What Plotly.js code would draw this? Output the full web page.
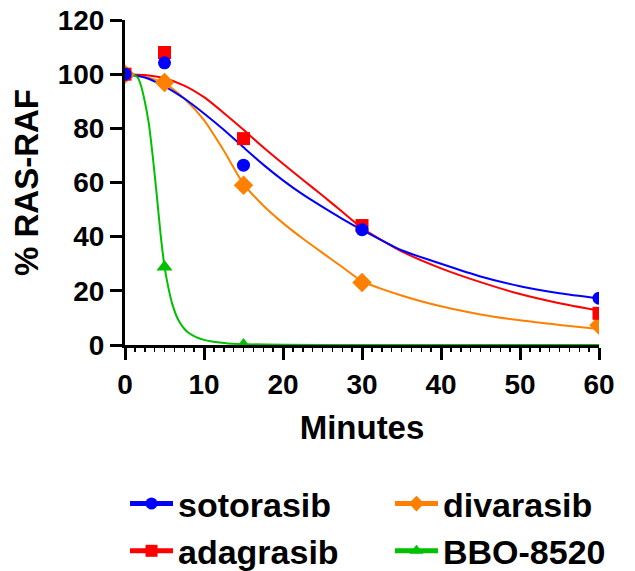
<!DOCTYPE html>
<html>
<head>
<meta charset="utf-8">
<script src="https://cdn.plot.ly/plotly-3.0.1.min.js"></script>
<style>html,body{margin:0;padding:0;background:#fff;}#chart{width:635px;height:571px;}</style>
</head>
<body>
<div id="chart"></div>
<script>
// Measured time points (minutes)
const timePoints = [0, 5, 15, 30, 60];

// Measured % RAS-RAF (null = no visible point)
const sotorasibPts = [100, 104.2, 66.4, 42.6, 17.3];
const adagrasibPts = [100, 108.0, 76.2, 44.1, 11.7];
const divarasibPts = [100, 96.9, 59.0, 23.1, 7.3];
const bboPts       = [100, 28.8, 0, null, null];

// Fitted curves
const fitX          = [0, 2.5, 5, 7.5, 10, 12.5, 15, 17.5, 20, 22.5, 25, 27.5, 30, 35, 40, 45, 50, 55, 60];
const sotorasibFit  = [100, 98.8, 95.5, 91, 85.5, 79.5, 73, 66.6, 60.8, 55.6, 51, 46.6, 42.5, 35, 30, 25.3, 21.7, 19.1, 17.2];
const adagrasibFit  = [100, 99.7, 98.5, 95.8, 91.5, 85.7, 79.5, 73, 66.9, 61, 55.2, 49.2, 43.2, 34.6, 28.3, 23.2, 18.8, 15.4, 12.7];
const divarasibFit  = [100, 99, 96.7, 91, 83, 71.8, 59.5, 51.5, 45, 39.3, 34, 28.8, 23.6, 18.3, 14.3, 11.3, 9.1, 7.4, 5.9];

const bboFitX = [0, 1, 1.6, 2, 2.5, 3, 3.5, 4, 4.5, 5, 5.5, 6, 6.5, 7, 7.5, 8, 9, 10, 11, 12, 13, 15, 20, 30, 40, 50, 60];
const bboFit  = [100, 99.8, 98.8, 96, 90, 82, 70, 56, 41, 29, 21, 15, 10.8, 8, 6, 4.6, 2.9, 1.9, 1.3, 0.9, 0.6, 0.3, 0.1, 0, 0, 0, 0];

const seriesNames = ['sotorasib', 'adagrasib', 'divarasib', 'BBO-8520'];
const colors  = {sotorasib: '#0000FF', adagrasib: '#FF0000', divarasib: '#FF8000', 'BBO-8520': '#00C000'};
const symbols = {sotorasib: 'circle', adagrasib: 'square', divarasib: 'diamond', 'BBO-8520': 'triangle-up'};
const sizes   = {sotorasib: 13, adagrasib: 13, divarasib: 15, 'BBO-8520': 14};
const legendOf = {sotorasib: 'legend', adagrasib: 'legend', divarasib: 'legend2', 'BBO-8520': 'legend2'};

const fits = {
  sotorasib: [fitX, sotorasibFit],
  adagrasib: [fitX, adagrasibFit],
  divarasib: [fitX, divarasibFit],
  'BBO-8520': [bboFitX, bboFit]
};
const pts = {sotorasib: sotorasibPts, adagrasib: adagrasibPts, divarasib: divarasibPts, 'BBO-8520': bboPts};

const curveOrder = ['divarasib', 'adagrasib', 'sotorasib', 'BBO-8520'];
const pointOrder = ['BBO-8520', 'divarasib', 'adagrasib', 'sotorasib'];
const traces = [];
curveOrder.forEach(n => {
  traces.push({x: fits[n][0], y: fits[n][1], type: 'scatter', mode: 'lines',
    line: {color: colors[n], width: 2, shape: 'spline', smoothing: 0.6},
    showlegend: false, hoverinfo: 'skip', cliponaxis: false});
});
pointOrder.forEach(n => {
  traces.push({x: timePoints, y: pts[n], type: 'scatter', mode: 'markers',
    marker: {color: colors[n], symbol: symbols[n], size: sizes[n], line: {width: 0}},
    showlegend: false, cliponaxis: true});
});
seriesNames.forEach(n => {
  traces.push({x: [null], y: [null], type: 'scatter', mode: 'lines+markers', name: n,
    legend: legendOf[n],
    line: {color: colors[n], width: 2},
    marker: {color: colors[n], symbol: symbols[n], size: sizes[n] - 1}});
});

const bold = {family: 'Arial, "Liberation Sans", sans-serif', color: '#000', weight: 'bold'};
const legendBase = {
  orientation: 'v', xanchor: 'left', y: -0.4, yanchor: 'top',
  itemwidth: 43, tracegroupgap: 0,
  font: Object.assign({size: 34}, bold),
  bgcolor: 'rgba(0,0,0,0)', itemsizing: 'constant', traceorder: 'normal'
};

const layout = {
  width: 635, height: 571,
  margin: {l: 125, r: 36, t: 20, b: 226, autoexpand: false},
  paper_bgcolor: '#fff', plot_bgcolor: '#fff',
  showlegend: true,
  xaxis: {
    range: [0, 60], dtick: 10, tick0: 0,
    showgrid: false, zeroline: false,
    showline: true, linecolor: '#000', linewidth: 3,
    ticks: 'outside', ticklen: 12, tickwidth: 3, tickcolor: '#000',
    minor: {dtick: 1.25, ticks: 'outside', ticklen: 4, tickwidth: 1.5, tickcolor: '#000', showgrid: false},
    tickfont: Object.assign({size: 28}, bold),
    title: {text: 'Minutes', font: Object.assign({size: 33}, bold), standoff: 18},
    layer: 'below traces', fixedrange: true, automargin: false
  },
  yaxis: {
    range: [0, 120], dtick: 20, tick0: 0,
    showgrid: false, zeroline: false,
    showline: true, linecolor: '#000', linewidth: 3,
    ticks: 'outside', ticklen: 12, tickwidth: 3, tickcolor: '#000',
    tickfont: Object.assign({size: 28}, bold),
    title: {text: '% RAS-RAF', font: Object.assign({size: 33}, bold), standoff: 10},
    layer: 'below traces', fixedrange: true, automargin: false
  },
  legend: Object.assign({x: 0.0}, legendBase),
  legend2: Object.assign({x: 0.559}, legendBase)
};

Plotly.newPlot('chart', traces, layout, {displayModeBar: false, staticPlot: true});
</script>
</body>
</html>
